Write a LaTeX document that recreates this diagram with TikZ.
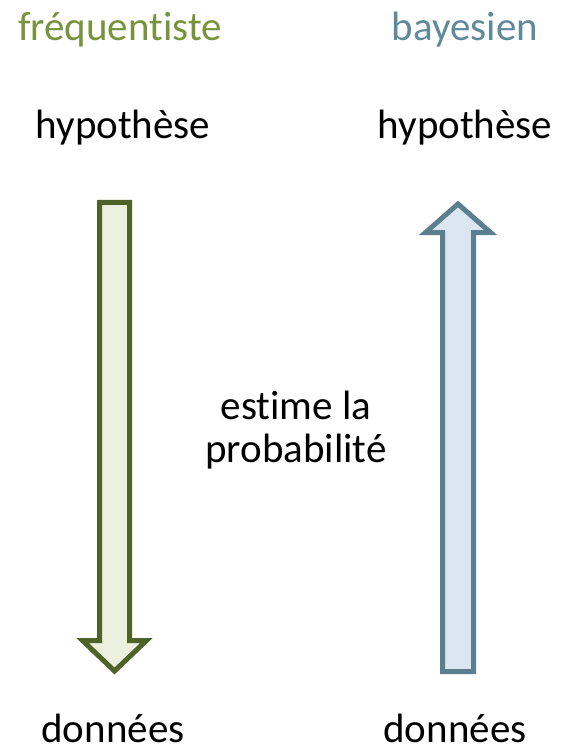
\documentclass[tikz,border=0pt]{standalone}
\usepackage{fontspec}
\setmainfont{Carlito}[Ligatures=NoCommon]
\definecolor{freqtxt}{HTML}{77933C}
\definecolor{bayetxt}{HTML}{5F8A9C}
\definecolor{freqline}{HTML}{4F6228}
\definecolor{freqfill}{HTML}{EBF1DE}
\definecolor{bayeline}{HTML}{5B7F8E}
\definecolor{bayefill}{HTML}{DCE6F2}
\begin{document}
\begin{tikzpicture}[x=1pt,y=-1pt,
  lbl/.style={anchor=base,inner sep=0pt,font=\fontsize{41}{43}\selectfont},
  blockarrow/.style={line width=5pt,line join=miter}]
\useasboundingbox (0,0) rectangle (561,751);
% titles
\node[lbl,text=freqtxt] (freq) at (120,41) {fréquentiste};
\node[lbl,text=bayetxt] (baye) at (465,41) {bayesien};
\node[lbl] (hypL) at (123,139) {hypothèse};
\node[lbl] (hypR) at (465,139) {hypothèse};
\node[lbl,text depth=0pt] (donL) at (113,742) {données};
\node[lbl,text depth=0pt] (donR) at (455,742) {données};
\node[lbl,align=center] (est) at (296,462) {estime la\\probabilité};
% left arrow (down)
\draw[blockarrow,draw=freqline,fill=freqfill]
  (99.5,202.5) -- (129.5,202.5) -- (129.5,640.5) -- (146.5,640.5)
  -- (114.5,671) -- (82.5,640.5) -- (99.5,640.5) -- cycle;
% right arrow (up)
\draw[blockarrow,draw=bayeline,fill=bayefill]
  (442.5,671.5) -- (473.5,671.5) -- (473.5,232.5) -- (490.5,232.5)
  -- (458,204) -- (425.5,232.5) -- (442.5,232.5) -- cycle;
\end{tikzpicture}
\end{document}
